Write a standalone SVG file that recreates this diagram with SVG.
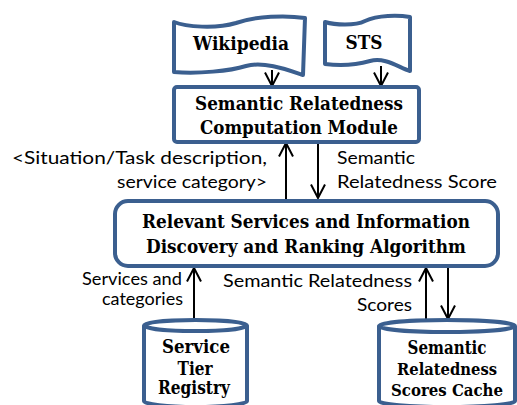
<svg xmlns="http://www.w3.org/2000/svg" width="517" height="405" viewBox="0 0 517 405">
<defs>
<style>
.shape{fill:#fff;stroke:#3b5f8f;stroke-width:4;stroke-linejoin:round}
.nt{font-family:"DejaVu Serif","Liberation Serif",serif;font-weight:bold;font-size:18px;fill:#000;text-anchor:middle}
.sm{font-size:16.5px}
.lb{font-family:Lato,"Liberation Sans",sans-serif;font-size:17.5px;fill:#000}
.cn{fill:none;stroke:#000;stroke-width:2}
</style>
<marker id="ah" markerUnits="userSpaceOnUse" markerWidth="16" markerHeight="16" viewBox="0 0 16 16" refX="14.5" refY="8" orient="auto">
<path d="M1,1 L14.5,8 L1,15" fill="none" stroke="#000" stroke-width="2"/>
</marker>
</defs>
<rect width="517" height="405" fill="#fff"/>

<g id="connectors">
<line class="cn" x1="272" y1="70" x2="272" y2="86" marker-end="url(#ah)"/>
<line class="cn" x1="381" y1="66" x2="381" y2="86" marker-end="url(#ah)"/>
<line class="cn" x1="286" y1="199" x2="286" y2="143" marker-end="url(#ah)"/>
<line class="cn" x1="318" y1="143" x2="318" y2="198" marker-end="url(#ah)"/>
<line class="cn" x1="194" y1="320" x2="194" y2="268" marker-end="url(#ah)"/>
<line class="cn" x1="426" y1="320" x2="426" y2="268" marker-end="url(#ah)"/>
<line class="cn" x1="448" y1="268" x2="448" y2="319" marker-end="url(#ah)"/>
</g>

<g id="wikipedia">
<path class="shape" d="M174,22 C186,27 216,29 236,23 C256,16 286,15 305,18 L303,75 C288,70 264,61 246,66 C230,71 198,74 174,72 Z"/>
<text class="nt" x="241" y="50" textLength="96" lengthAdjust="spacingAndGlyphs">Wikipedia</text>
</g>

<g id="sts">
<path class="shape" d="M325,22 C335,25 355,26 365,21 C378,15 398,15 410,17 L410,71 C398,67 385,57 370,61 C356,65 340,66 325,64 Z"/>
<text class="nt" x="364" y="49" textLength="37" lengthAdjust="spacingAndGlyphs">STS</text>
</g>

<g id="semantic-module">
<rect class="shape" x="174" y="87" width="245" height="55" rx="3"/>
<text class="nt" x="299" y="110" textLength="208" lengthAdjust="spacingAndGlyphs">Semantic Relatedness</text>
<text class="nt" x="299" y="134" textLength="198" lengthAdjust="spacingAndGlyphs">Computation Module</text>
</g>

<g id="ranking-algorithm">
<rect class="shape" x="115" y="201" width="383" height="65" rx="13"/>
<text class="nt" x="306" y="228" textLength="328" lengthAdjust="spacingAndGlyphs">Relevant Services and Information</text>
<text class="nt" x="306" y="253" textLength="320" lengthAdjust="spacingAndGlyphs">Discovery and Ranking Algorithm</text>
</g>

<g id="service-registry">
<path class="shape" d="M144,325.5 L144,401 A51.5,6 0 0 0 247,401 L247,325.5"/>
<ellipse class="shape" cx="195.5" cy="325.5" rx="51.5" ry="5.5"/>
<text class="nt" x="196" y="353" textLength="68" lengthAdjust="spacingAndGlyphs">Service</text>
<text class="nt" x="195" y="375" textLength="35" lengthAdjust="spacingAndGlyphs">Tier</text>
<text class="nt" x="194" y="394" textLength="72" lengthAdjust="spacingAndGlyphs">Registry</text>
</g>

<g id="scores-cache">
<path class="shape" d="M379,326 L379,401 A68,6 0 0 0 515,401 L515,326"/>
<ellipse class="shape" cx="447" cy="326" rx="68" ry="6"/>
<text class="nt" x="447" y="354" textLength="79" lengthAdjust="spacingAndGlyphs">Semantic</text>
<text class="nt sm" x="447" y="375" textLength="100" lengthAdjust="spacingAndGlyphs">Relatedness</text>
<text class="nt sm" x="447" y="396" textLength="112" lengthAdjust="spacingAndGlyphs">Scores Cache</text>
</g>

<g id="labels">
<text class="lb" x="12" y="164" textLength="255" lengthAdjust="spacingAndGlyphs">&lt;Situation/Task description,</text>
<text class="lb" x="117" y="188" textLength="150" lengthAdjust="spacingAndGlyphs">service category&gt;</text>
<text class="lb" x="337" y="164" textLength="78" lengthAdjust="spacingAndGlyphs">Semantic</text>
<text class="lb" x="337" y="188" textLength="160" lengthAdjust="spacingAndGlyphs">Relatedness Score</text>
<text class="lb" x="82" y="285" textLength="100" lengthAdjust="spacingAndGlyphs">Services and</text>
<text class="lb" x="102" y="305" textLength="81" lengthAdjust="spacingAndGlyphs">categories</text>
<text class="lb" x="223" y="287" textLength="189" lengthAdjust="spacingAndGlyphs">Semantic Relatedness</text>
<text class="lb" x="357" y="311" textLength="55" lengthAdjust="spacingAndGlyphs">Scores</text>
</g>
</svg>
